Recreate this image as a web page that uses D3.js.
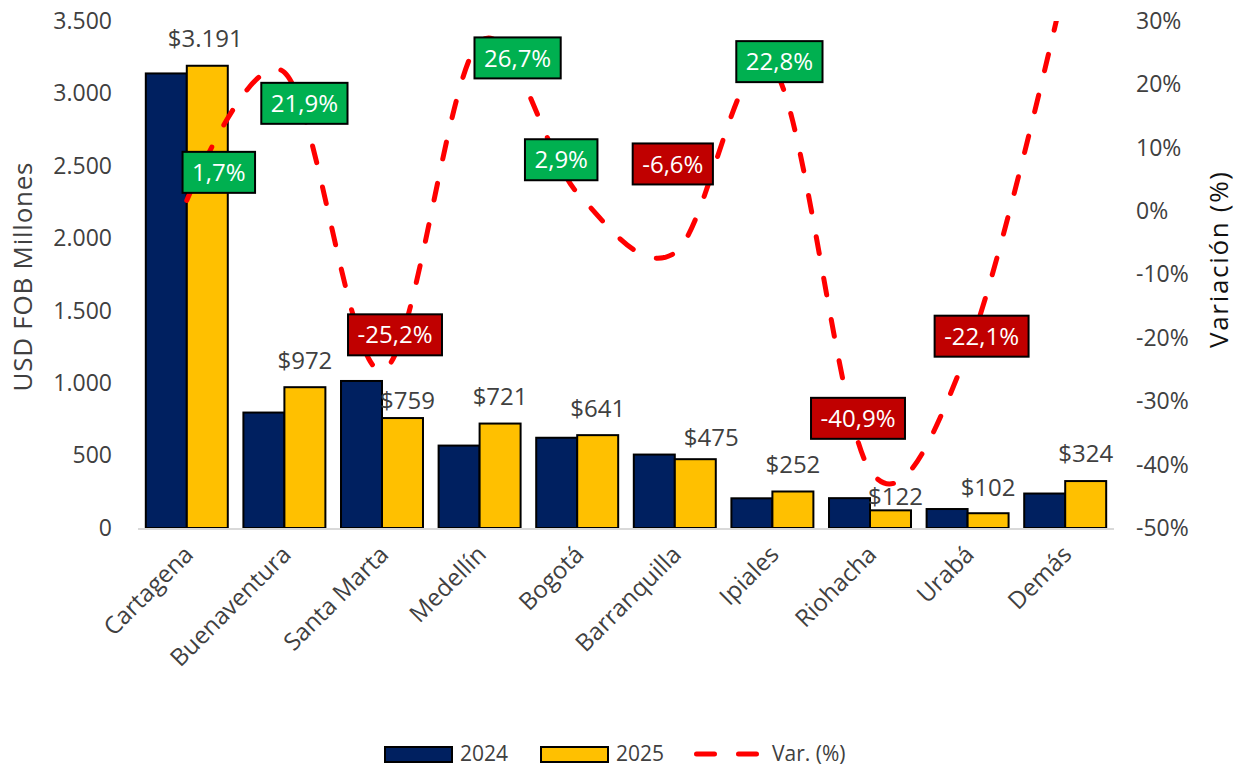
<!DOCTYPE html>
<html>
<head>
<meta charset="utf-8">
<script src="https://cdn.jsdelivr.net/npm/d3@7"></script>
<style>
  body { margin: 0; background: #fff; }
  svg text { font-family: "Open Sans", "Noto Sans", sans-serif; }
</style>
</head>
<body>
<div id="chart"></div>
<script>
// data
const categories = ["Cartagena", "Buenaventura", "Santa Marta", "Medellín", "Bogotá",
                    "Barranquilla", "Ipiales", "Riohacha", "Urabá", "Demás"];
const series = ["2024", "2025"];
const values2024 = [3138, 797, 1015, 569, 623, 507, 205, 206, 131, 238];
const values2025 = [3191, 972, 759, 721, 641, 475, 252, 122, 102, 324];
const variation = [1.7, 21.9, -25.2, 26.7, 2.9, -6.6, 22.8, -40.9, -22.1, 36.1];
const leftTicks = [0, 500, 1000, 1500, 2000, 2500, 3000, 3500];
const rightTicks = [-50, -40, -30, -20, -10, 0, 10, 20, 30];

// label placement (box centre relative to the line point), null = no label
const varLabelOffsets = [[32, -28], [20, 31], [13, -36], [38, 16], [-16, -33],
                         [-2, -89], [7, -5], [-12, -52], [14, -15], null];
const valueLabelOffsets = [[-2, -27], [0, -27], [5, -17], [0, -27], [0, -27],
                           [16, -22], [0, -27], [5, -14], [0, -26], [0, -27]];

const width = 1241, height = 766;
const plot = {left: 138, right: 1114, top: 21, bottom: 528};
const colors = {"2024": "#002060", "2025": "#FFC000"};
const textGray = "#404040";

const locale = d3.formatLocale({decimal: ",", thousands: ".", grouping: [3],
                                currency: ["$", ""], minus: "-"});
const fmtNum = locale.format(",.0f");
const fmtMoney = locale.format("$,.0f");
const fmtPct1 = v => locale.format(".1f")(v) + "%";
const fmtPct0 = v => locale.format(".0f")(v) + "%";

const svg = d3.select("#chart").append("svg")
    .attr("width", width)
    .attr("height", height)
    .attr("viewBox", `0 0 ${width} ${height}`);

const x = d3.scaleBand().domain(categories).range([plot.left, plot.right])
    .paddingInner(0.16).paddingOuter(0.08);
const x1 = d3.scaleBand().domain(series).range([0, x.bandwidth()]);
const y = d3.scaleLinear().domain([0, 3500]).range([plot.bottom, plot.top]);
const yR = d3.scaleLinear().domain([-50, 30]).range([plot.bottom, plot.top]);

const rows = categories.map((c, i) => ({
    cat: c, i,
    vals: [{s: "2024", v: values2024[i]}, {s: "2025", v: values2025[i]}],
    pct: variation[i]
}));

// left axis
const yAxis = svg.append("g")
    .attr("transform", `translate(${plot.left - 26},0)`)
    .call(d3.axisLeft(y).tickValues(leftTicks).tickFormat(fmtNum).tickSize(0).tickPadding(0));
yAxis.select(".domain").remove();
yAxis.selectAll("text").attr("font-size", 23).attr("fill", textGray)
    .attr("font-family", "'Open Sans', sans-serif");

// right axis
const yAxisR = svg.append("g")
    .attr("transform", `translate(${plot.right + 22},0)`)
    .call(d3.axisRight(yR).tickValues(rightTicks).tickFormat(fmtPct0).tickSize(0).tickPadding(0));
yAxisR.select(".domain").remove();
yAxisR.selectAll("text").attr("font-size", 23).attr("fill", textGray)
    .attr("font-family", "'Open Sans', sans-serif");

// axis titles
svg.append("text")
    .attr("transform", "translate(32,277) rotate(-90)")
    .attr("text-anchor", "middle")
    .attr("font-size", 26).attr("fill", textGray)
    .attr("textLength", 229).attr("lengthAdjust", "spacing")
    .text("USD FOB Millones");
svg.append("text")
    .attr("transform", "translate(1228,260) rotate(-90)")
    .attr("text-anchor", "middle")
    .attr("font-size", 26).attr("fill", "#111")
    .attr("textLength", 176).attr("lengthAdjust", "spacing")
    .text("Variación (%)");

// bars
const groups = svg.append("g").selectAll("g").data(rows).join("g")
    .attr("transform", d => `translate(${x(d.cat)},0)`);
groups.selectAll("rect").data(d => d.vals).join("rect")
    .attr("x", d => x1(d.s))
    .attr("y", d => y(d.v))
    .attr("width", x1.bandwidth())
    .attr("height", d => y(0) - y(d.v))
    .attr("fill", d => colors[d.s])
    .attr("stroke", "#000")
    .attr("stroke-width", 2);

// baseline
svg.append("line")
    .attr("x1", plot.left).attr("x2", plot.right)
    .attr("y1", y(0) + 1).attr("y2", y(0) + 1)
    .attr("stroke", "#D9D9D9").attr("stroke-width", 2);

// value labels for 2025
svg.append("g").selectAll("text").data(rows).join("text")
    .attr("x", d => x(d.cat) + x1("2025") + x1.bandwidth() / 2 + valueLabelOffsets[d.i][0])
    .attr("y", d => y(values2025[d.i]) + valueLabelOffsets[d.i][1])
    .attr("dy", "0.35em")
    .attr("text-anchor", "middle")
    .attr("font-size", 24).attr("fill", textGray)
    .text(d => fmtMoney(values2025[d.i]));

// category labels
svg.append("g").selectAll("text").data(categories).join("text")
    .attr("transform", d => `translate(${x(d) + x.bandwidth() / 2 + 2},${plot.bottom + 22}) rotate(-45)`)
    .attr("text-anchor", "end")
    .attr("dy", "0.35em")
    .attr("font-size", 24).attr("fill", textGray)
    .text(d => d);

// variation line (smoothed, dashed), clipped to plot area
svg.append("clipPath").attr("id", "plotClip")
    .append("rect")
    .attr("x", 0).attr("y", plot.top)
    .attr("width", width).attr("height", plot.bottom - plot.top);

const cx = d => x(d.cat) + x.bandwidth() / 2;
const line = d3.line()
    .x(cx)
    .y(d => yR(d.pct))
    .curve(d3.curveCardinal.tension(0));

svg.append("path")
    .datum(rows)
    .attr("clip-path", "url(#plotClip)")
    .attr("d", line)
    .attr("fill", "none")
    .attr("stroke", "#FF0000")
    .attr("stroke-width", 5)
    .attr("stroke-linecap", "round")
    .attr("stroke-dasharray", "17 25");

// variation labels
const labels = svg.append("g").selectAll("g")
    .data(rows.filter(d => varLabelOffsets[d.i]))
    .join("g")
    .attr("transform", d => `translate(${cx(d) + varLabelOffsets[d.i][0]},${yR(d.pct) + varLabelOffsets[d.i][1]})`);
labels.append("text")
    .attr("text-anchor", "middle")
    .attr("dy", "0.36em")
    .attr("font-size", 24)
    .attr("fill", "#fff")
    .text(d => fmtPct1(d.pct));
labels.each(function(d) {
    const g = d3.select(this);
    const bb = g.select("text").node().getBBox();
    g.insert("rect", "text")
        .attr("x", bb.x - 9.5)
        .attr("y", -20.5)
        .attr("width", bb.width + 19)
        .attr("height", 41)
        .attr("fill", d.pct >= 0 ? "#00B050" : "#C00000")
        .attr("stroke", "#000")
        .attr("stroke-width", 2);
});

// legend
const legend = svg.append("g").attr("transform", "translate(0,754)");
const legendItems = [
    {key: "2024", x: 385, type: "rect"},
    {key: "2025", x: 541, type: "rect"}
];
legendItems.forEach(item => {
    legend.append("rect")
        .attr("x", item.x).attr("y", -7)
        .attr("width", 67).attr("height", 15)
        .attr("fill", colors[item.key])
        .attr("stroke", "#000").attr("stroke-width", 2);
    legend.append("text")
        .attr("x", item.x + 75).attr("y", 0).attr("dy", "0.35em")
        .attr("font-size", 21).attr("fill", textGray)
        .text(item.key);
});
legend.append("line")
    .attr("x1", 696.5).attr("x2", 756.5)
    .attr("y1", 0).attr("y2", 0)
    .attr("stroke", "#FF0000").attr("stroke-width", 5)
    .attr("stroke-linecap", "round")
    .attr("stroke-dasharray", "18 24");
legend.append("text")
    .attr("x", 772).attr("y", 0).attr("dy", "0.35em")
    .attr("font-size", 21).attr("fill", textGray)
    .text("Var. (%)");
</script>
</body>
</html>
